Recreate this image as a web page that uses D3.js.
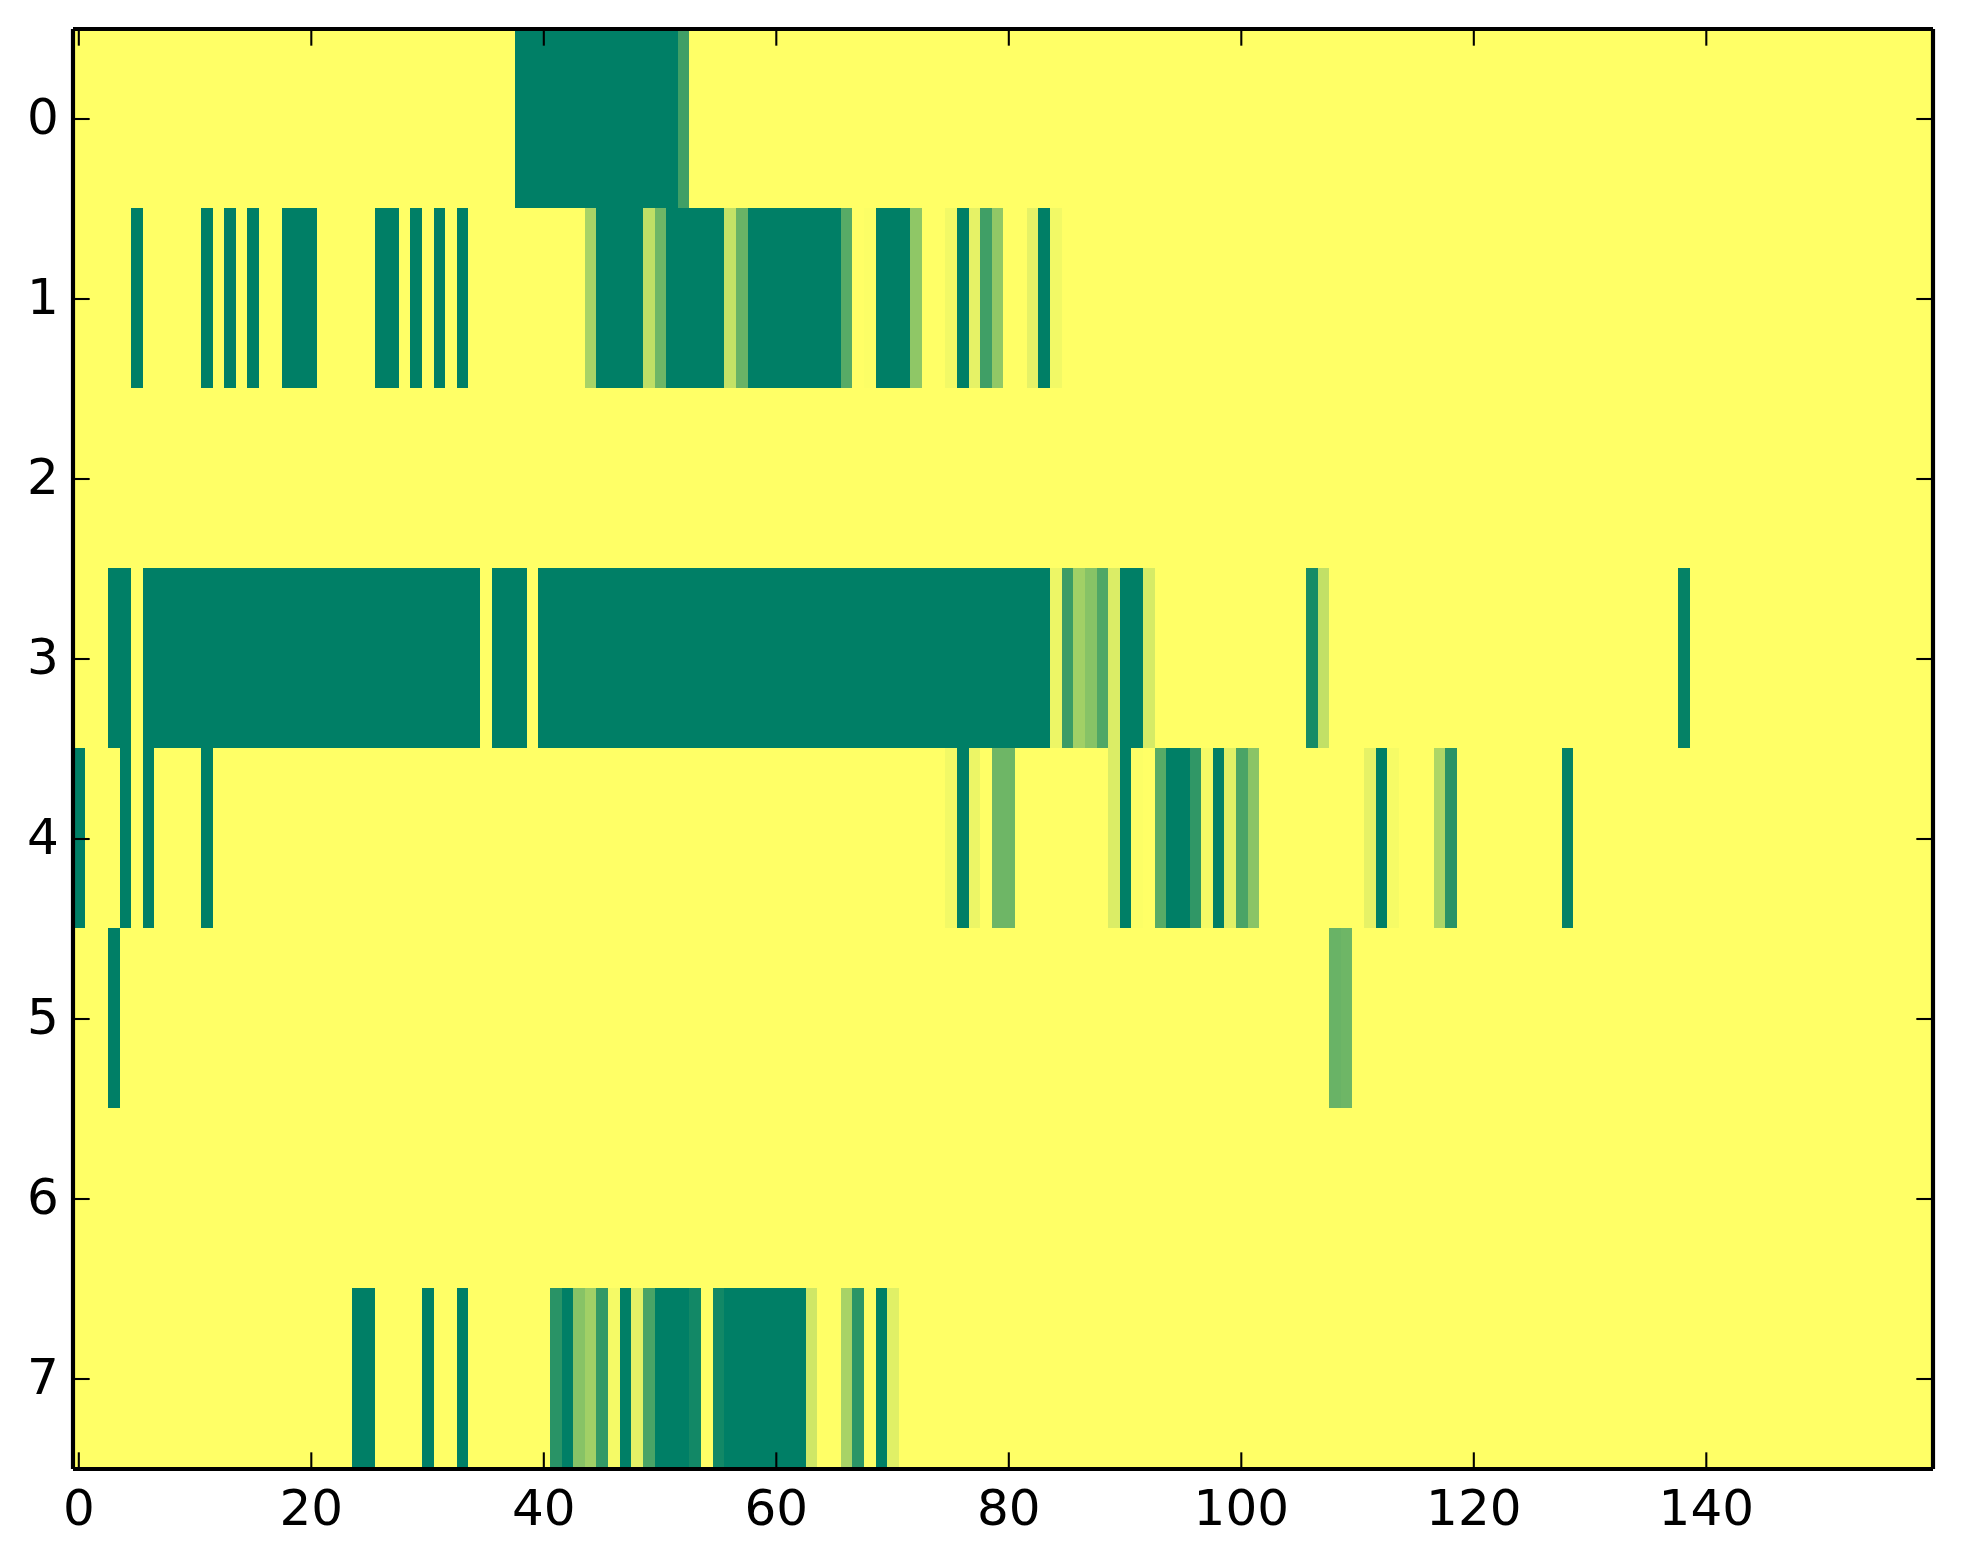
<!DOCTYPE html>
<html>
<head>
<meta charset="utf-8">
<script src="https://cdn.jsdelivr.net/npm/d3@7"></script>
<style>
    body { margin: 0; background: #ffffff; }
    svg { display: block; }
</style>
</head>
<body>
<svg id="chart" width="1963" height="1564"></svg>
<script>
// Heatmap cells, one list per row. Each run is [first column, last column, value].
// Everything that is not listed has the value 0.
const row0 = [[38, 51, 1], [52, 52, 0.75]];
const row1 = [
    [5, 5, 1], [11, 11, 1], [13, 13, 1], [15, 15, 1], [18, 20, 1], [26, 27, 1],
    [29, 29, 1], [31, 31, 1], [33, 33, 1], [44, 44, 0.34], [45, 48, 1], [49, 49, 0.25],
    [50, 50, 0.57], [51, 55, 1], [56, 56, 0.23], [57, 57, 0.59], [58, 65, 1], [66, 66, 0.66],
    [68, 68, 0.01], [69, 71, 1], [72, 72, 0.44], [75, 75, 0.05], [76, 76, 1], [77, 77, 0.1],
    [78, 78, 0.75], [79, 79, 0.43], [82, 82, 0.1], [83, 83, 1], [84, 84, 0.05]
];
const row2 = [];
const row3 = [
    [3, 4, 1], [6, 34, 1], [36, 38, 1], [40, 83, 1], [84, 84, 0.07], [85, 85, 0.77],
    [86, 86, 0.37], [87, 87, 0.47], [88, 88, 0.69], [89, 89, 0.14], [90, 91, 1], [92, 92, 0.16],
    [106, 106, 0.91], [107, 107, 0.24], [138, 138, 0.98]
];
const row4 = [
    [0, 0, 1], [4, 4, 1], [6, 6, 1], [11, 11, 1], [75, 75, 0.05], [76, 76, 1], [77, 77, 0.075],
    [79, 80, 0.57], [89, 89, 0.14], [90, 90, 1], [91, 91, 0.01], [93, 93, 0.66], [94, 95, 1],
    [96, 96, 0.81], [97, 97, 0.04], [98, 98, 1], [99, 99, 0.12], [100, 100, 0.71],
    [101, 101, 0.46], [111, 111, 0.1], [112, 112, 1], [113, 113, 0.035], [117, 117, 0.32],
    [118, 118, 0.84], [128, 128, 0.98]
];
const row5 = [[3, 3, 1], [108, 108, 0.59], [109, 109, 0.57]];
const row6 = [];
const row7 = [
    [24, 25, 1], [30, 30, 1], [33, 33, 1], [41, 41, 0.84], [42, 42, 1], [43, 43, 0.47],
    [44, 44, 0.37], [45, 45, 0.8], [46, 46, 0.04], [47, 47, 1], [48, 48, 0.105], [49, 49, 0.71],
    [50, 52, 1], [53, 53, 0.93], [55, 55, 0.93], [56, 62, 1], [63, 63, 0.19], [66, 66, 0.34],
    [67, 67, 0.83], [68, 68, 0.01], [69, 69, 1], [70, 70, 0.12]
];

const rows = [row0, row1, row2, row3, row4, row5, row6, row7];
const column_count = 160;

const x_ticks = [0, 20, 40, 60, 80, 100, 120, 140];
const y_ticks = [0, 1, 2, 3, 4, 5, 6, 7];

// Plot area in pixels.
const left = 73, right = 1933, top_edge = 29, bottom = 1469;
const tick_length = 16.67;

const x = d3.scaleLinear().domain([-0.5, column_count - 0.5]).range([left, right]);
const y = d3.scaleLinear().domain([-0.5, rows.length - 0.5]).range([top_edge, bottom]);
// The cells sit on the image's own pixel grid, a hair off from the axes.
const x_cells = d3.scaleLinear().domain(x.domain()).range([left, left + column_count * 11.631]);
const y_cells = d3.scaleLinear().domain(y.domain()).range([top_edge - 0.6, bottom - 0.6]);
const color = d3.scaleLinear().domain([0, 1]).range(["#ffff66", "#007f66"]);

const svg = d3.select("#chart");

// Zero background, then the runs of every row on top of it.
svg.append("rect")
    .attr("x", left)
    .attr("y", top_edge)
    .attr("width", right - left)
    .attr("height", bottom - top_edge)
    .style("fill", color(0));

const row_groups = svg.selectAll(".row_g").data(rows).join("g")
    .attr("class", "row_g")
    .attr("shape-rendering", "crispEdges");

row_groups.selectAll("rect").data((d, i) => d.map(run => ({ row: i, run: run }))).join("rect")
    .attr("x", d => x_cells(d.run[0] - 0.5))
    .attr("y", d => Math.max(y_cells(d.row - 0.5), top_edge))
    .attr("width", d => x_cells(d.run[1] + 0.5) - x_cells(d.run[0] - 0.5))
    .attr("height", d => Math.min(y_cells(d.row + 0.5), bottom) - Math.max(y_cells(d.row - 0.5), top_edge))
    .style("fill", d => color(d.run[2]));

// Four separate axes, so the spines meet with butt ends and ticks point inward.
const x_bottom = d3.axisBottom(x).tickValues(x_ticks).tickSizeInner(-tick_length).tickSizeOuter(0).tickPadding(20.5).offset(0);
const x_top = d3.axisTop(x).tickValues(x_ticks).tickSizeInner(-tick_length).tickSizeOuter(0).tickFormat("").offset(0);
const y_left = d3.axisLeft(y).tickValues(y_ticks).tickSizeInner(-tick_length).tickSizeOuter(0).tickPadding(14.2).offset(0);
const y_right = d3.axisRight(y).tickValues(y_ticks).tickSizeInner(-tick_length).tickSizeOuter(0).tickFormat("").offset(0);

svg.append("g").attr("class", "axis").attr("transform", "translate(0," + bottom + ")").call(x_bottom);
svg.append("g").attr("class", "axis").attr("transform", "translate(0," + top_edge + ")").call(x_top);
svg.append("g").attr("class", "axis y_labels").attr("transform", "translate(" + left + ",0)").call(y_left);
svg.append("g").attr("class", "axis").attr("transform", "translate(" + right + ",0)").call(y_right);

svg.selectAll(".axis .domain")
    .style("stroke", "#000000")
    .style("stroke-width", 4.17)
    .style("fill", "none");
svg.selectAll(".axis .tick line")
    .style("stroke", "#000000")
    .style("stroke-width", 2.08);
svg.selectAll(".axis text")
    .style("font-family", "'DejaVu Sans'")
    .style("font-size", "50px")
    .style("fill", "#000000");
svg.selectAll(".y_labels text").attr("dy", "14.7px");
</script>
</body>
</html>
